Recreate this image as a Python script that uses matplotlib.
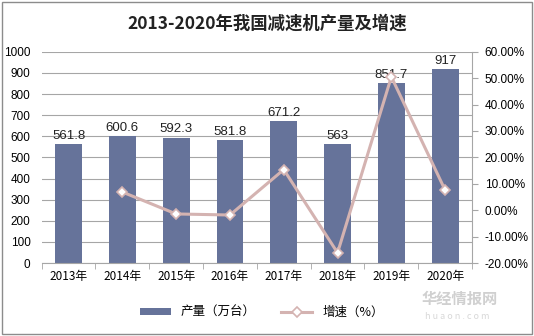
import matplotlib.pyplot as plt
from matplotlib.patches import Rectangle
import numpy as np

plt.rcParams["font.family"] = ["Noto Sans CJK SC", "DejaVu Sans"]

years = ["2013年", "2014年", "2015年", "2016年", "2017年", "2018年", "2019年", "2020年"]
output = [561.8, 600.6, 592.3, 581.8, 671.2, 563, 851.7, 917]
growth_years = years[1:]
growth = [6.9, -1.4, -1.8, 15.4, -16.1, 50.5, 7.6]

bar_color = "#66739a"
line_color = "#d4b3b1"
grid_color = "#a6a6a6"

fig = plt.figure(figsize=(5.34, 3.36), dpi=100)
fig.patches.append(Rectangle((0.004, 0.006), 0.992, 0.988, transform=fig.transFigure,
                             fill=False, edgecolor="#8c8c8c", linewidth=1.0))

ax = fig.add_axes([0.078, 0.217, 0.806, 0.629])
x = np.arange(len(years))
bars = ax.bar(x, output, width=0.5, color=bar_color, zorder=2, label="产量（万台）")
for xi, v in zip(x, output):
    ax.text(xi, v + 12, f"{v:g}", ha="center", va="bottom", fontsize=9.5,
            family=["Liberation Sans", "DejaVu Sans"], color="#222222")

ax.set_xlim(-0.5, len(years) - 0.5)
ax.set_ylim(0, 1000)
ax.set_yticks(np.arange(0, 1001, 100))
ax.yaxis.grid(True, color=grid_color, linewidth=0.8, zorder=0)
ax.set_axisbelow(True)
for s in ["top", "right", "left"]:
    ax.spines[s].set_visible(False)
ax.spines["bottom"].set_color(grid_color)
ax.tick_params(axis="y", length=0, labelsize=8.5, pad=8)
ax.set_xticks(x)
ax.set_xticklabels(years, fontsize=8.5)
ax.tick_params(axis="x", length=0, pad=5)
ax.set_xticks(np.arange(-0.5, len(years), 1), minor=True)
ax.tick_params(axis="x", which="minor", length=4, color=grid_color)
for lab in ax.get_yticklabels():
    lab.set_family(["Liberation Sans", "DejaVu Sans"])

ax2 = ax.twinx()
gx = np.arange(1, len(years))
ax2.plot(gx, growth, color=line_color, linewidth=2.2, marker="D", markersize=5.5,
         markerfacecolor="white", markeredgecolor=line_color, markeredgewidth=1.2,
         zorder=3, label="增速（%）")
ax2.set_ylim(-20, 60)
ax2.set_yticks(np.arange(-20, 61, 10))
ax2.set_yticklabels([f"{v:.2f}%" for v in np.arange(-20, 61, 10)])
for s in ["top", "left", "bottom"]:
    ax2.spines[s].set_visible(False)
ax2.spines["right"].set_color(grid_color)
ax2.tick_params(axis="y", length=4, color=grid_color, labelsize=8.5, pad=5)
for lab in ax2.get_yticklabels():
    lab.set_family(["Liberation Sans", "DejaVu Sans"])

fig.text(0.5, 0.93, "2013-2020年我国减速机产量及增速", ha="center", va="center",
         fontsize=12.5, fontweight="bold", color="#222222")

h1, l1 = ax.get_legend_handles_labels()
h2, l2 = ax2.get_legend_handles_labels()
fig.legend(h1 + h2, l1 + l2, loc="center", bbox_to_anchor=(0.49, 0.07), ncol=2,
           frameon=False, fontsize=9, handlelength=2.5, handleheight=0.4,
           columnspacing=2.0)

fig.text(0.79, 0.135, "华经情报网", fontsize=11, color="#d0d0d0", fontweight="bold",
         va="top")
fig.text(0.795, 0.07, "h u a o n . c o m", fontsize=6.5, color="#d8d8d8", va="top")

fig.savefig("out.png", dpi=100, facecolor="white")
